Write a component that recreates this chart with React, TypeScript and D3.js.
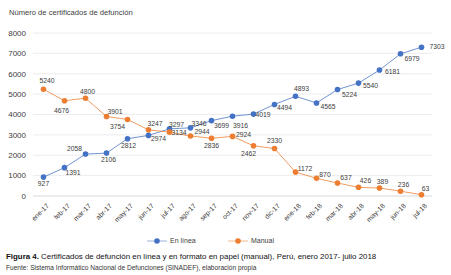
import React from "react";
import * as d3 from "d3";

const months = ["ene-17","feb-17","mar-17","abr-17","may-17","jun-17","jul-17","ago-17","sep-17","oct-17","nov-17","dic-17","ene-18","feb-18","mar-18","abr-18","may-18","jun-18","jul-18"];
const enLinea = [927,1391,2058,2106,2812,2974,3297,3346,3699,3916,4019,4494,4893,4565,5224,5540,6181,6979,7303];
const manual = [5240,4676,4800,3901,3754,3247,3134,2944,2836,2924,2462,2330,1172,870,637,426,389,236,63];
const yTicks = [0,1000,2000,3000,4000,5000,6000,7000,8000];

// label offsets (label centre relative to marker)
const enLineaLabelOffsets: [number, number][] = [[0,7],[8.5,5],[-11,-5],[2,7],[1,7],[10,3],[7,-4.2],[8.5,-4],[10,5],[8,9],[9.5,1],[10,3.5],[6,-7.5],[11.5,3.5],[12,5],[12,2],[13,2],[11.5,5],[15.5,-1]];
const manualLabelOffsets: [number, number][] = [[3.5,-8.5],[-3,9.5],[2,-6.5],[8.5,-5],[-10,7],[6.5,-6],[9.5,0.2],[11.5,-4],[0,7],[11,-2],[-5,7.5],[0,-7.5],[9.5,-4],[8.5,-4],[8.5,-5],[7,-6.5],[3,-6.5],[3,-7],[4,-6]];

const BLUE = "#4472C4";
const ORANGE = "#ED7D31";
const FONT = "'Liberation Sans', Arial, sans-serif";

export default function App() {
  const W = 451, H = 275;
  const x = d3.scaleBand<string>().domain(months).range([33, 432]).padding(0);
  const y = d3.scaleLinear().domain([0, 8000]).range([196, 33]);
  const cx = (m: string) => (x(m) ?? 0) + x.bandwidth() / 2;
  const line = d3.line<number>().x((_, i) => cx(months[i])).y((v) => y(v));

  const series = [
    { name: "En línea", values: enLinea, color: BLUE, offs: enLineaLabelOffsets },
    { name: "Manual", values: manual, color: ORANGE, offs: manualLabelOffsets },
  ];

  return (
    <svg width={W} height={H} style={{ position: "absolute", left: 0, top: 0, background: "#fff" }} fontFamily={FONT}>
      <text x={9} y={14.5} fontSize={7.6} fill="#404040">Número de certificados de defunción</text>
      {yTicks.map((t) => (
        <g key={t}>
          <line x1={33} x2={432} y1={y(t)} y2={y(t)} stroke={t === 0 ? "#d9d9d9" : "#ececec"} strokeWidth={1} />
          <text x={26} y={y(t)} dy="0.35em" textAnchor="end" fontSize={8} fill="#404040">{t}</text>
        </g>
      ))}
      {months.map((m) => (
        <text key={m} transform={`translate(${cx(m) + 2.5},${203}) rotate(-45)`} textAnchor="end" dy="0.7em" fontSize={6.8} fill="#404040">{m}</text>
      ))}
      {series.map((s) => (
        <g key={s.name}>
          <path d={line(s.values) ?? ""} fill="none" stroke={s.color} strokeWidth={0.9} strokeOpacity={0.85} />
          {s.values.map((v, i) => (
            <circle key={i} cx={cx(months[i])} cy={y(v)} r={2.8} fill={s.color} />
          ))}
          {s.values.map((v, i) => (
            <text key={"l" + i} x={cx(months[i]) + s.offs[i][0]} y={y(v) + s.offs[i][1]} dy="0.35em" textAnchor="middle" fontSize={6.8} fill="#404040">{v}</text>
          ))}
        </g>
      ))}
      {/* legend */}
      <g>
        <line x1={147} x2={167} y1={241} y2={241} stroke={BLUE} strokeWidth={0.9} strokeOpacity={0.6} />
        <circle cx={157} cy={241} r={2.8} fill={BLUE} />
        <text x={170} y={241} dy="0.35em" fontSize={7} fill="#404040">En línea</text>
        <line x1={228} x2={248} y1={241} y2={241} stroke={ORANGE} strokeWidth={0.9} strokeOpacity={0.6} />
        <circle cx={238} cy={241} r={2.8} fill={ORANGE} />
        <text x={251} y={241} dy="0.35em" fontSize={7} fill="#404040">Manual</text>
      </g>
      <text x={6} y={258.5} fontSize={7.9} fill="#111">
        <tspan fontWeight="bold">Figura 4.</tspan> Certificados de defunción en línea y en formato en papel (manual), Perú, enero 2017- julio 2018
      </text>
      <text x={6} y={270} fontSize={6.6} fill="#333">Fuente: Sistema Informático Nacional de Defunciones (SINADEF), elaboración propia</text>
    </svg>
  );
}
